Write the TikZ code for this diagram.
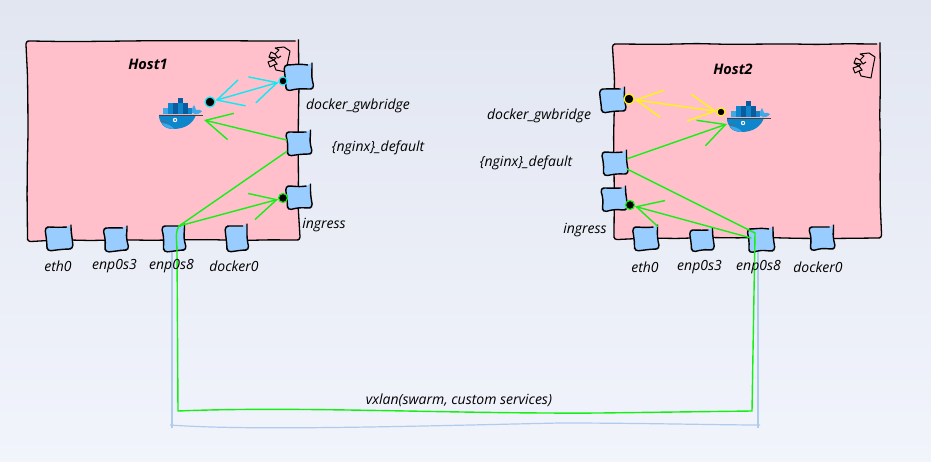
\documentclass[tikz,border=0pt]{standalone}
\usepackage{fontspec}
\setmainfont{Open Sans}
\usetikzlibrary{arrows.meta,decorations.pathmorphing}

\definecolor{pagetop}{HTML}{E2E6F1}
\definecolor{pagebottom}{HTML}{F1F4FB}
\definecolor{hostpink}{HTML}{FFC0CB}
\definecolor{portblue}{HTML}{99CCFF}
\definecolor{linkgreen}{HTML}{14F014}
\definecolor{linkcyan}{HTML}{0CEAF6}
\definecolor{linkyellow}{HTML}{FFF514}
\definecolor{wireblue}{HTML}{B0CCEC}
\definecolor{whaledark}{HTML}{0B5C9E}
\definecolor{whalemid}{HTML}{0F86CC}
\definecolor{whalelight}{HTML}{3FA9E8}

\tikzset{
    barbtip/.tip={Straight Barb[length=26pt, width=27pt]},
    hostbox/.style={draw=black, fill=hostpink, line width=1.3pt, inner sep=0pt,
        rounded corners=3pt, decorate, decoration={random steps, segment length=30pt, amplitude=.6pt}},
    portbox/.style={draw=black, fill=portblue, line width=1.4pt, inner sep=0pt,
        minimum width=23pt, minimum height=22pt, rounded corners=4pt,
        decorate, decoration={random steps, segment length=8pt, amplitude=1pt}},
    portlabel/.style={font=\itshape\fontsize{14}{16}\selectfont, inner sep=1pt},
    hostlabel/.style={font=\bfseries\itshape\fontsize{14.5}{17}\selectfont, inner sep=1pt},
    blob/.style={circle, fill=black, line width=1.2pt, minimum size=10pt, inner sep=0pt},
    link/.style={line width=1.4pt, line cap=round},
    whale/.pic={
        % containers
        \fill[whaledark] (19,0) rectangle (24,5);
        \fill[whalemid] (9,5) rectangle (14,10);
        \fill[whaledark] (14,5) rectangle (19,10);
        \fill[whalemid] (19,5) rectangle (24,10);
        \fill[whaledark] (24,5) rectangle (29,10);
        \fill[whalelight] (4,10) rectangle (9,16);
        \fill[whalemid] (9,10) rectangle (14,16);
        \fill[whaledark] (14,10) rectangle (19,16);
        \fill[whalemid] (19,10) rectangle (24,16);
        \fill[whaledark] (24,10) rectangle (29,16);
        \fill[whalemid] (29,10) rectangle (33,16);
        % hull and tail
        \fill[whalemid] (0,17) -- (37,17) .. controls (34,25) and (27,31) .. (14,31)
            .. controls (5,31) and (0,25) .. (0,17) -- cycle;
        \fill[whalelight] (3,25) .. controls (8,26) and (12,27) .. (15,31)
            .. controls (9,31) and (5,29) .. (3,25) -- cycle;
        \fill[whalelight] (33,15) .. controls (33,11) and (33,9) .. (35,7)
            .. controls (36,9) and (37,11) .. (37,12) .. controls (39,11) and (41,12) .. (43,13)
            .. controls (41,16) and (38,17) .. (33,15) -- cycle;
        \draw[black!75, line width=.9pt] (0,17) -- (44,17);
        \draw[black!60, line width=.8pt] (2,23) -- (8,24);
        \fill[white] (16,22) circle (2.2);
        \fill[whaledark] (16,22) circle (1);
    },
    scribble/.pic={
        \draw[black, line width=1pt, line join=round]
            (8,1) -- (17,0) -- (23,4) -- (21,14) -- (19,25) -- (9,23) -- (7,18) -- (3,20) -- (1,15)
            -- (7,13) -- (2,10) -- (4,5) -- (8,7) -- (12,3) -- (8,1);
        \draw[black, line width=1pt] (2,10) -- (9,11) -- (7,13) -- (10,17) -- (7,18);
        \draw[black, line width=1pt] (8,7) -- (11,11) -- (14,9);
    }
}

\begin{document}
\begin{tikzpicture}[x=1pt, y=-1pt]
    \pgfmathsetseed{11}
    \useasboundingbox (0,0) rectangle (931,462);
    \shade[top color=pagetop, bottom color=pagebottom] (0,0) rectangle (931,462);

    % The two hosts
    \node[hostbox, minimum width=271pt, minimum height=199pt] (host1) at (163,140.5) {};
    \node[hostbox, minimum width=266pt, minimum height=194pt] (host2) at (747,141) {};
    \node[hostlabel] (host1name) at (148,64) {Host1};
    \node[hostlabel] (host2name) at (733,69) {Host2};

    % The scribbled marks in the corners
    \pic at (267,47) {scribble};
    \pic at (852,53) {scribble};

    % The whales
    \pic at (159,98) {whale};
    \pic at (727,101) {whale};

    % Free ends of the links
    \coordinate (h1whale) at (204,120);
    \coordinate (h2whale) at (727,124);
    \coordinate (h1tap) at (179,226);
    \coordinate (h2tap) at (755,233);
    \coordinate (h2split) at (751,238);
    \coordinate (wirestart) at (172,240);
    \coordinate (wireend) at (758,240);

    % The vxlan wire behind everything
    \draw[wireblue, line width=1.2pt] (wirestart) -- (172,428);
    \draw[wireblue, line width=1.2pt] (170,425) .. controls (250,431) and (420,426) .. (560,423)
        .. controls (640,423) and (720,425) .. (760,425);
    \draw[wireblue, line width=1.2pt] (wireend) -- (758,428);

    % The ports of the first host
    \node[portbox, minimum width=24pt] (h1eth) at (59,238) {};
    \node[portbox, minimum width=22pt] (h1enps3) at (116,239) {};
    \node[portbox, minimum width=21pt, minimum height=24pt] (h1enps8) at (174,238) {};
    \node[portbox, minimum width=20pt, minimum height=24pt] (h1dock) at (237,238) {};
    \node[portbox, minimum width=26pt, minimum height=24pt] (h1bridge) at (299,77) {};
    \node[portbox] (h1nginx) at (299,143) {};
    \node[portbox] (h1ingress) at (299,197) {};

    % The ports of the second host
    \node[portbox] (h2bridge) at (613,100) {};
    \node[portbox] (h2nginx) at (615,163) {};
    \node[portbox] (h2ingress) at (614,199) {};
    \node[portbox] (h2eth) at (646,238) {};
    \node[portbox, minimum width=21pt, minimum height=20pt] (h2enps3) at (702,240) {};
    \node[portbox, minimum width=24pt] (h2enps8) at (761,240) {};
    \node[portbox] (h2dock) at (822,238) {};

    % The blobs on the link ends
    \node[blob, draw=linkcyan] (h1dotwhale) at (210,102) {};
    \node[blob, draw=linkcyan, minimum size=8pt] (h1dotbridge) at (283,81) {};
    \node[blob, draw=linkgreen, minimum size=9pt] (h1dotingress) at (283,198) {};
    \node[blob, draw=linkyellow] (h2dotbridge) at (629,99) {};
    \node[blob, draw=linkyellow, minimum size=8pt] (h2dotwhale) at (721,112) {};
    \node[blob, draw=linkgreen, minimum size=9pt] (h2dotingress) at (630,205) {};

    % The links of the first host
    \draw[link, linkcyan, barbtip-barbtip] (h1dotwhale) -- (h1dotbridge);
    \draw[link, linkgreen, -barbtip] (h1nginx) -- (h1whale);
    \draw[link, linkgreen] (h1tap) -- (h1nginx);
    \draw[link, linkgreen, -barbtip] (h1tap) -- (h1dotingress);

    % The links of the second host
    \draw[link, linkyellow, barbtip-barbtip] (h2dotbridge) -- (h2dotwhale);
    \draw[link, linkgreen, -barbtip] (h2nginx) -- (h2whale);
    \draw[link, linkgreen] (h2nginx) -- (h2tap);
    \draw[link, linkgreen, -barbtip] (h2split) -- (h2dotingress);

    % The vxlan link between the hosts
    \draw[link, linkgreen] (h1tap) .. controls (176,232) .. (177,250) -- (178,411)
        .. controls (300,406) and (450,414) .. (600,413) -- (752,411) -- (h2tap);

    % The labels of the first host
    \node[portlabel] (h1ethname) at (58,266) {eth0};
    \node[portlabel] (h1enps3name) at (114.5,266) {enp0s3};
    \node[portlabel] (h1enps8name) at (171.5,266) {enp0s8};
    \node[portlabel] (h1dockname) at (234,266) {docker0};
    \node[portlabel] (h1bridgename) at (358,106) {docker\_gwbridge};
    \node[portlabel] (h1nginxname) at (378,148) {\{nginx\}\_default};
    \node[portlabel] (h1ingressname) at (324,225) {ingress};

    % The labels of the second host
    \node[portlabel] (h2ethname) at (645,267) {eth0};
    \node[portlabel] (h2enps3name) at (699.5,267) {enp0s3};
    \node[portlabel] (h2enps8name) at (758.5,267) {enp0s8};
    \node[portlabel] (h2dockname) at (818,267) {docker0};
    \node[portlabel] (h2bridgename) at (539,115.5) {docker\_gwbridge};
    \node[portlabel] (h2nginxname) at (526,163) {\{nginx\}\_default};
    \node[portlabel] (h2ingressname) at (585,230) {ingress};

    % The label of the wire
    \node[portlabel] (vxlanname) at (459,400) {vxlan(swarm, custom services)};
\end{tikzpicture}
\end{document}
